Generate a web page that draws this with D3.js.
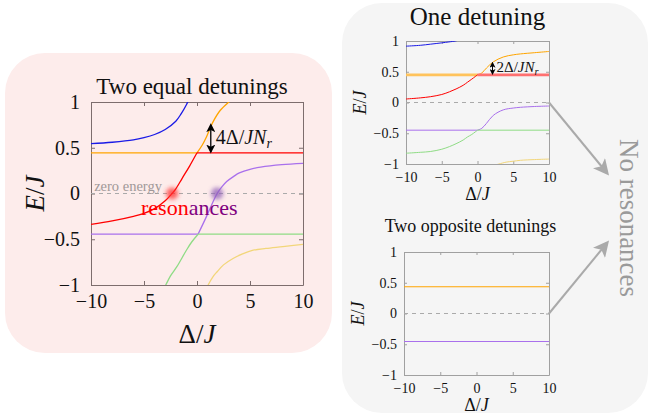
<!DOCTYPE html>
<html>
<head>
    <script src="https://cdn.jsdelivr.net/npm/d3@7"></script>
    <style>
        body { margin: 0; background: #ffffff; }
        text { font-family: "Liberation Serif", "DejaVu Serif", serif; }
    </style>
</head>

<body>
<div id="chart"></div>

<script>

    // axis ticks shared by the three panels
    var xTicks = [-10, -5, 0, 5, 10];
    var xTickLabels = ['\u221210', '\u22125', '0', '5', '10'];
    var yTicks = [-1, -0.5, 0, 0.5, 1];
    var yTickLabels = ['\u22121', '\u22120.5', '0', '0.5', '1'];

    // two equal detunings: [Delta/J, E/J]
    var equalBlue = [[-10, 0.545], [-8, 0.56], [-6, 0.585], [-5, 0.61], [-4, 0.645], [-3, 0.70], [-2, 0.79], [-1.5, 0.87], [-1, 0.97], [-0.8, 1.02]];
    var equalOrangeFlat = [[-10, 0.445], [0, 0.445]];
    var equalOrange = [[0, 0.445], [0.5, 0.53], [0.9, 0.62], [1.5, 0.78], [2.2, 0.91], [3, 1.0], [3.3, 1.03]];
    var equalRed = [[-10, -0.337], [-8, -0.30], [-6, -0.25], [-5, -0.217], [-4, -0.165], [-3, -0.08], [-2.35, 0], [-2, 0.05], [-1.4, 0.166], [-0.7, 0.30], [0, 0.445]];
    var equalRedFlat = [[0, 0.445], [10, 0.445]];
    var equalPurpleFlat = [[-10, -0.445], [0.1, -0.445]];
    var equalPurple = [[0.1, -0.445], [0.9, -0.25], [1.4, -0.12], [1.9, 0], [2.4, 0.08], [2.8, 0.13], [3.5, 0.19], [4, 0.225], [5, 0.265], [6, 0.288], [8, 0.315], [10, 0.33]];
    var equalGreen = [[-3.2, -1.05], [-2.95, -1.0], [-2.5, -0.9], [-1.9, -0.8], [-1, -0.62], [-0.5, -0.53], [0.1, -0.445]];
    var equalGreenFlat = [[0.1, -0.445], [10, -0.445]];
    var equalYellow = [[0.9, -1.04], [1.05, -1.0], [1.5, -0.91], [1.9, -0.855], [2.5, -0.78], [3.4, -0.71], [4.3, -0.66], [5.3, -0.62], [6.5, -0.60], [8.1, -0.58], [10, -0.555]];
    var equalResonances = [[-2.35, 0], [1.9, 0]];
    var equalGap = [1.3, 0.445, 0.76];

    // one detuning
    var oneBlue = [[-10, 0.916], [-8, 0.93], [-6.6, 0.948], [-5, 0.97], [-4, 0.985], [-3.1, 1.0], [-2.8, 1.01]];
    var oneOrangeFlat = [[-10, 0.45], [0, 0.45]];
    var oneOrange = [[0, 0.45], [0.6, 0.48], [1.25, 0.56], [2.2, 0.66], [3.6, 0.74], [5, 0.775], [6, 0.79], [8, 0.81], [10, 0.83]];
    var oneRed = [[-10, 0.057], [-8, 0.075], [-6.6, 0.094], [-5, 0.13], [-3.9, 0.175], [-3, 0.22], [-2, 0.28], [-1.4, 0.33], [-0.8, 0.38], [0, 0.45]];
    var oneRedFlat = [[0, 0.45], [10, 0.45]];
    var onePurpleFlat = [[-10, -0.45], [0, -0.45]];
    var onePurple = [[0, -0.45], [0.6, -0.42], [1.25, -0.34], [2.2, -0.21], [3.6, -0.12], [5, -0.09], [6, -0.078], [8, -0.065], [10, -0.057]];
    var oneGreen = [[-10, -0.825], [-8, -0.81], [-6.6, -0.797], [-5, -0.76], [-3.9, -0.716], [-3, -0.67], [-2, -0.61], [-1.4, -0.56], [-0.8, -0.52], [0, -0.45]];
    var oneGreenFlat = [[0, -0.45], [10, -0.45]];
    var oneYellow = [[2.7, -1.01], [3, -1.0], [4, -0.97], [5, -0.955], [6, -0.94], [8, -0.928], [10, -0.92]];
    var oneGap = [2.1, 0.45, 0.66];

    // two opposite detunings
    var oppositeOrange = [[-10, 0.435], [10, 0.435]];
    var oppositePurple = [[-10, -0.455], [10, -0.455]];

    var zeroLine = [[-10, 0], [10, 0]];

    var width = 650;
    var height = 420;

    var svg = d3.select('#chart').append('svg')
        .attr('width', width)
        .attr('height', height);

    var defs = svg.append('defs');
    defs.append('filter').attr('id', 'blur')
        .attr('x', '-100%').attr('y', '-100%').attr('width', '300%').attr('height', '300%')
        .append('feGaussianBlur').attr('stdDeviation', 2.2);

    function marker(id, color, size) {
        defs.append('marker')
            .attr('id', id)
            .attr('viewBox', '0 0 10 10')
            .attr('refX', 8).attr('refY', 5)
            .attr('markerWidth', size).attr('markerHeight', size)
            .attr('markerUnits', 'userSpaceOnUse')
            .attr('orient', 'auto-start-reverse')
            .append('path')
            .attr('d', 'M0,0 L10,5 L0,10 L2.5,5 Z')
            .attr('fill', color);
    }
    marker('headBlack', '#000', 9);
    marker('headSmall', '#000', 6);
    marker('headGrey', '#aaa', 16);

    // background boxes
    svg.append('rect')
        .attr('x', 5).attr('y', 53).attr('width', 327).attr('height', 300)
        .attr('rx', 40).attr('fill', '#fdeceb');
    svg.append('rect')
        .attr('x', 342).attr('y', 3).attr('width', 306).attr('height', 410)
        .attr('rx', 40).attr('fill', '#f5f5f5');

    function mathLabel(sel, parts) {
        parts.forEach(function(p) {
            var t = sel.append('tspan').text(p[0]);
            if (p[1] == 'i') t.attr('font-style', 'italic');
            if (p[1] == 'sub') t.attr('font-style', 'italic').attr('font-size', '0.7em').attr('dy', '0.25em');
        });
    }

    function drawPanel(p) {
        var x = d3.scaleLinear().domain([-10, 10]).range([p.x0, p.x1]);
        var y = d3.scaleLinear().domain([-1, 1]).range([p.y1, p.y0]);
        var id = 'clip' + p.name;

        defs.append('clipPath').attr('id', id)
            .append('rect')
            .attr('x', p.x0).attr('y', p.y0)
            .attr('width', p.x1 - p.x0).attr('height', p.y1 - p.y0);

        var line = d3.line()
            .x(function(d) { return x(d[0]); })
            .y(function(d) { return y(d[1]); })
            .curve(d3.curveCatmullRom.alpha(0.5));

        var g = svg.append('g');

        // axes with inward ticks on all sides
        var axes = [
            ['translate(0,' + p.y1 + ')', d3.axisBottom(x).tickValues(xTicks).tickFormat(function(d, i) { return xTickLabels[i]; })],
            ['translate(0,' + p.y0 + ')', d3.axisTop(x).tickValues(xTicks).tickFormat('')],
            ['translate(' + p.x0 + ',0)', d3.axisLeft(y).tickValues(yTicks).tickFormat(function(d, i) { return yTickLabels[i]; })],
            ['translate(' + p.x1 + ',0)', d3.axisRight(y).tickValues(yTicks).tickFormat('')]
        ];
        axes.forEach(function(a, k) {
            var ax = g.append('g')
                .attr('transform', a[0])
                .call(a[1].tickSizeInner(-p.tick).tickSizeOuter(0).tickPadding(k == 0 ? p.xPad : p.pad));
            ax.attr('font-family', null);
            ax.select('.domain').attr('stroke', p.boxColor);
            ax.selectAll('.tick line').attr('stroke', p.boxColor);
            ax.selectAll('.tick text')
                .attr('fill', '#111')
                .attr('font-size', p.tickFont);
        });

        g.append('path')
            .attr('d', line(zeroLine))
            .attr('stroke', '#aaa')
            .attr('stroke-width', 1)
            .attr('stroke-dasharray', '4,4')
            .attr('fill', 'none');

        var curves = g.append('g').attr('clip-path', 'url(#' + id + ')');
        p.curves.forEach(function(c) {
            curves.append('path')
                .attr('d', line(c[0]))
                .attr('stroke', c[1])
                .attr('stroke-width', c[2] || p.lineWidth)
                .attr('fill', 'none');
        });

        // title
        g.append('text')
            .attr('x', (p.x0 + p.x1) / 2 + (p.titleShift || 0))
            .attr('y', p.titleY)
            .attr('text-anchor', 'middle')
            .attr('font-size', p.titleFont)
            .attr('fill', '#111')
            .text(p.title);

        // axis labels
        var yl = g.append('text')
            .attr('transform', 'translate(' + p.yLabelX + ',' + (p.y0 + p.y1) / 2 + ') rotate(-90)')
            .attr('text-anchor', 'middle')
            .attr('dy', '0.35em')
            .attr('font-size', p.labelFont)
            .attr('fill', '#111');
        mathLabel(yl, [['E', 'i'], ['/', ''], ['J', 'i']]);

        var xl = g.append('text')
            .attr('x', (p.x0 + p.x1) / 2)
            .attr('y', p.xLabelY)
            .attr('text-anchor', 'middle')
            .attr('font-size', p.labelFont)
            .attr('fill', '#111');
        mathLabel(xl, [['\u0394', ''], ['/', ''], ['J', 'i']]);

        return { g: g, x: x, y: y };
    }

    // left panel: two equal detunings
    var leftPanel = drawPanel({
        name: 'equal', x0: 91, x1: 303, y0: 102, y1: 285,
        tick: 4, pad: 11, xPad: 9, tickFont: 20, boxColor: '#7d6d6d', lineWidth: 1.3,
        title: 'Two equal detunings', titleY: 94, titleFont: 23, titleShift: -5,
        labelFont: 27, yLabelX: 35, xLabelY: 343,
        curves: [
            [equalBlue, '#1a1ae6'],
            [equalOrangeFlat, '#ffa500'],
            [equalOrange, '#ffa500'],
            [equalRedFlat, '#ff0000'],
            [equalRed, '#ff0000'],
            [equalPurpleFlat, '#a970ec'],
            [equalPurple, '#a970ec'],
            [equalGreenFlat, '#8fdc85'],
            [equalGreen, '#8fdc85'],
            [equalYellow, '#f2d67a']
        ]
    });

    leftPanel.g.append('text')
        .attr('x', leftPanel.x(-9.7)).attr('y', leftPanel.y(0) - 3)
        .attr('font-size', 14.5)
        .attr('fill', '#a09898')
        .text('zero energy');

    leftPanel.g.selectAll('circle.res')
        .data(equalResonances)
        .enter()
        .append('circle')
        .attr('cx', function(d) { return leftPanel.x(d[0]); })
        .attr('cy', function(d) { return leftPanel.y(d[1]); })
        .attr('r', 6)
        .attr('fill', function(d, i) { return i == 0 ? '#ff3030' : '#9060b8'; })
        .attr('opacity', 0.75)
        .attr('filter', 'url(#blur)');

    var res = leftPanel.g.append('text')
        .attr('x', 141).attr('y', 215)
        .attr('font-size', 22);
    res.append('tspan').attr('fill', '#ff0000').text('reson');
    res.append('tspan').attr('fill', '#800080').text('ances');

    leftPanel.g.append('line')
        .attr('x1', leftPanel.x(equalGap[0])).attr('x2', leftPanel.x(equalGap[0]))
        .attr('y1', leftPanel.y(equalGap[1]) - 1).attr('y2', leftPanel.y(equalGap[2]) + 1)
        .attr('stroke', '#000').attr('stroke-width', 1.3)
        .attr('marker-start', 'url(#headBlack)')
        .attr('marker-end', 'url(#headBlack)');
    var gapL = leftPanel.g.append('text')
        .attr('x', leftPanel.x(equalGap[0]) + 5).attr('y', 144)
        .attr('font-size', 20).attr('fill', '#111');
    mathLabel(gapL, [['4\u0394', ''], ['/', ''], ['JN', 'i'], ['r', 'sub']]);

    // top right: one detuning
    var topPanel = drawPanel({
        name: 'one', x0: 406, x1: 549, y0: 41, y1: 164,
        tick: 3, pad: 7, xPad: 8, tickFont: 14, boxColor: '#a0a0a0', lineWidth: 1,
        title: 'One detuning', titleY: 25, titleFont: 25,
        labelFont: 18, yLabelX: 360, xLabelY: 200,
        curves: [
            [oneBlue, '#1a1ae6'],
            [oneOrangeFlat, '#ffc35c', 2.6],
            [oneOrange, '#ffa500'],
            [oneRedFlat, '#ff7070', 2.6],
            [oneRed, '#ff0000'],
            [onePurpleFlat, '#a970ec'],
            [onePurple, '#a970ec'],
            [oneGreenFlat, '#8fdc85'],
            [oneGreen, '#8fdc85'],
            [oneYellow, '#f2d67a']
        ]
    });

    topPanel.g.append('line')
        .attr('x1', topPanel.x(oneGap[0])).attr('x2', topPanel.x(oneGap[0]))
        .attr('y1', topPanel.y(oneGap[1]) - 1).attr('y2', topPanel.y(oneGap[2]) + 1)
        .attr('stroke', '#000').attr('stroke-width', 1)
        .attr('marker-start', 'url(#headSmall)')
        .attr('marker-end', 'url(#headSmall)');
    var gapR = topPanel.g.append('text')
        .attr('x', topPanel.x(oneGap[0]) + 4).attr('y', 72)
        .attr('font-size', 15).attr('fill', '#111');
    mathLabel(gapR, [['2\u0394', ''], ['/', ''], ['JN', 'i'], ['r', 'sub']]);

    // bottom right: two opposite detunings
    var bottomPanel = drawPanel({
        name: 'opposite', x0: 404, x1: 549, y0: 252, y1: 375,
        tick: 3, pad: 7, xPad: 8, tickFont: 14, boxColor: '#a0a0a0', lineWidth: 1.2,
        title: 'Two opposite detunings', titleY: 232, titleFont: 18, titleShift: -6,
        labelFont: 18, yLabelX: 358, xLabelY: 411,
        curves: [
            [oppositeOrange, '#ffa500'],
            [oppositePurple, '#a970ec']
        ]
    });

    // arrows to the "No resonances" note
    svg.append('line')
        .attr('x1', topPanel.x(10)).attr('y1', topPanel.y(0))
        .attr('x2', 607).attr('y2', 173)
        .attr('stroke', '#aaa').attr('stroke-width', 2)
        .attr('marker-end', 'url(#headGrey)');
    svg.append('line')
        .attr('x1', bottomPanel.x(10)).attr('y1', bottomPanel.y(0))
        .attr('x2', 607).attr('y2', 243)
        .attr('stroke', '#aaa').attr('stroke-width', 2)
        .attr('marker-end', 'url(#headGrey)');

    svg.append('text')
        .attr('transform', 'translate(620,218) rotate(90)')
        .attr('text-anchor', 'middle')
        .attr('font-size', 27)
        .attr('fill', '#9a9a9a')
        .text('No resonances');

</script>
</body>
</html>
